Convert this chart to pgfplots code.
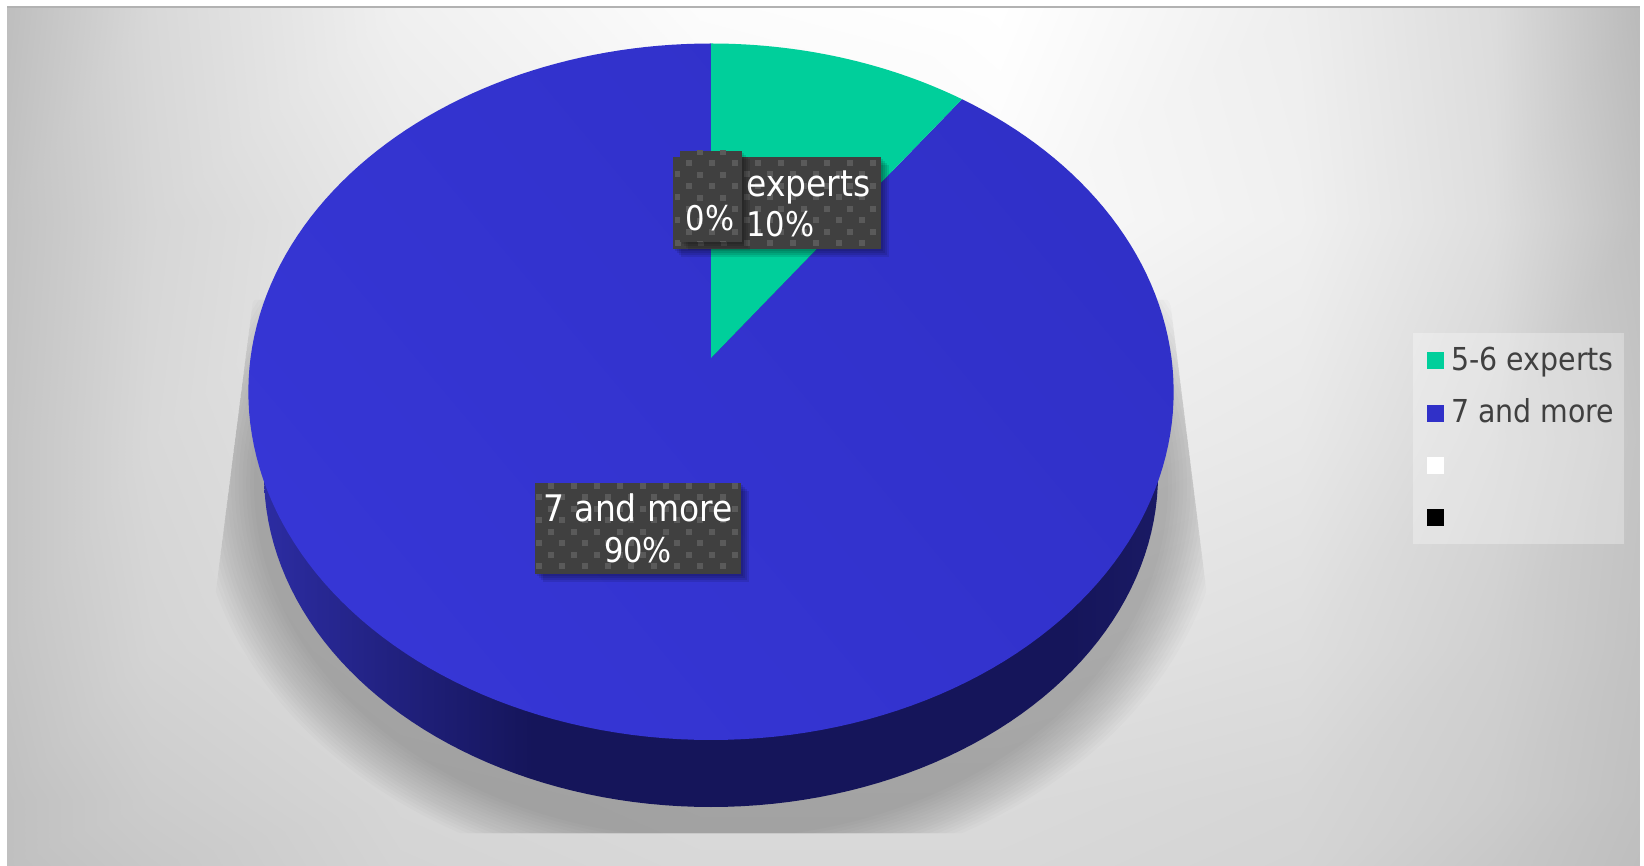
\documentclass[border=0pt]{standalone}
\usepackage{pgfplots}
\usepackage{pgfplotstable}
\usepackage{fontspec}
\pgfplotsset{compat=1.18}
\setmainfont{DejaVu Sans Condensed}

% Share of panels by number of experts
\pgfplotstableread{
group share
1 10
2 90
3 0
4 0
}\sharetable
\pgfplotstablegetelem{0}{share}\of\sharetable
\pgfmathsetmacro{\firstsweep}{3.6*\pgfplotsretval}

% Grey levels of the chart area backdrop
\pgfplotstableread{
x y g
7 7 190
150 7 216
400 7 240
700 7 252
1000 7 255
1300 7 238
1494 7 220
1640 7 186
7 220 194
150 220 214
400 220 232
700 220 244
1000 220 250
1300 220 240
1494 220 222
1640 220 192
7 440 196
150 440 216
400 440 228
700 440 234
1000 440 238
1300 440 232
1494 440 214
1640 440 196
7 650 196
150 650 212
400 650 222
700 650 226
1000 650 228
1300 650 222
1494 650 208
1640 650 194
7 800 192
150 800 204
400 800 214
700 800 218
1000 800 218
1300 800 214
1494 800 204
1640 800 192
7 866 192
150 866 200
400 866 212
700 866 216
1000 866 216
1300 866 212
1494 866 200
1640 866 190
}\backdrop

\definecolor{sliceA}{HTML}{00CF9B}
\definecolor{faceA}{HTML}{3636D5}
\definecolor{faceB}{HTML}{3030C8}
\definecolor{boxbg}{HTML}{404040}
\definecolor{boxdot}{HTML}{5A5A5A}
\definecolor{wallA}{HTML}{2C2CA2}
\definecolor{wallB}{HTML}{15155A}
\definecolor{wallC}{HTML}{1A1A64}
\pgfdeclarehorizontalshading{wall}{100bp}{
  color(0bp)=(wallA); color(25bp)=(wallA); color(40bp)=(wallB);
  color(70bp)=(wallB); color(75bp)=(wallC); color(100bp)=(wallC)}

% Data label box: left, top, right, bottom, then x and y of its first dot
\newcommand\dotbox[6]{%
  \foreach \s in {8,6,4,2}{
    \fill[black,opacity=.1] (axis cs:#1+\s,#2+\s) rectangle (axis cs:#3+\s,#4+\s);
  }
  \fill[boxbg] (axis cs:#1,#2) rectangle (axis cs:#3,#4);
  \begin{scope}
    \clip (axis cs:#1,#2) rectangle (axis cs:#3,#4);
    \foreach \r in {0,...,8}{
      \foreach \c in {-5,...,10}{
        \pgfmathsetmacro{\xx}{#5+23*\c-11.5*mod(\r,2)}
        \pgfmathsetmacro{\yy}{#6+11.5*\r}
        \fill[boxdot] (axis cs:\xx-3,\yy-3) rectangle (axis cs:\xx+3,\yy+3);
      }
    }
  \end{scope}
}
\newcommand\labelfont{\fontsize{18.3}{18.3}\selectfont}
\newcommand\percentfont{\fontsize{17}{17}\selectfont}

\begin{document}
\begin{tikzpicture}
\begin{axis}[
  scale only axis, width=822pt, height=433pt,
  xmin=0, xmax=1644, ymin=0, ymax=866, y dir=reverse,
  hide axis, clip=false,
  colormap/blackwhite, point meta min=0, point meta max=255,
  declare function={
    px(\t)=711+460.5*sin(\t)/(1+0.0969*cos(\t));
    py(\t)=(358-310.3*cos(\t))/(1+0.0969*cos(\t));
    wx(\t)=711+447*sin(\t);
    wy(\t)=475-332*cos(\t);
  },
  legend style={
    at={(axis cs:1427,346)}, anchor=north west, draw=none, fill=none,
    inner sep=0pt, outer sep=0pt, row sep=10.65pt,
    font=\fontsize{15.8}{15.8}\selectfont, text=black!75,
    nodes={inner sep=0pt, text height=12pt, text depth=3.5pt, anchor=base west},
    /tikz/column 1/.style={column sep=3.6pt},
  },
  legend cell align=left,
  legend image code/.code={%
    \fill[#1, draw=none] (0pt,0.4pt) rectangle (8.5pt,8.9pt);
  },
]
  % Full canvas, with its white margin
  \pgfplotsextra{\path (axis cs:0,0) (axis cs:1644,866);}

  % Backdrop
  \addplot[surf, shader=interp, mesh/rows=6, point meta=explicit, forget plot]
    table[x=x, y=y, meta=g] {\backdrop};
  \pgfplotsextra{%
    \fill[gray!60] (axis cs:7,6) rectangle (axis cs:1640,8);
  }

  % Soft shadow under the pie
  \pgfplotsextra{%
    \begin{scope}
      \clip (axis cs:253,300) -- (axis cs:200,716) -- (axis cs:200,833)
        -- (axis cs:1222,833) -- (axis cs:1222,716) -- (axis cs:1170,300) -- cycle;
      \foreach \i in {0,...,15}{
        \pgfmathsetmacro{\rx}{(514-3.8*\i)*0.5}
        \pgfmathsetmacro{\ry}{(400-3*\i)*0.5}
        \fill[black,opacity=.016] (axis cs:711,484) ellipse [x radius=\rx pt, y radius=\ry pt];
      }
    \end{scope}
  }

  % Side wall
  \addplot[draw=none, shade, shading=wall, domain=0:360, samples=181, forget plot]
    ({wx(x)},{wy(x)}) -- cycle;

  % Slices, swept clockwise from twelve o'clock
  \addplot[draw=none, shade, left color=faceA, right color=faceB, shading angle=130,
    domain=\firstsweep:360, samples=181, forget plot]
    ({px(x)},{py(x)}) -- (axis cs:711,358) -- cycle;
  \addplot[draw=none, fill=sliceA, domain=0:\firstsweep, samples=31, forget plot]
    ({px(x)},{py(x)}) -- (axis cs:711,358) -- cycle;

  % Legend panel
  \pgfplotsextra{%
    \fill[white,opacity=.3] (axis cs:1413,333) rectangle (axis cs:1624,544);
  }
  \addlegendimage{fill=sliceA}
  \addlegendentry{5-6 experts}
  \addlegendimage{fill=faceB}
  \addlegendentry{7 and more}
  \addlegendimage{fill=white}
  \addlegendentry{}
  \addlegendimage{fill=black}
  \addlegendentry{}

  % Data labels
  \pgfplotsextra{%
    \dotbox{673}{157}{881}{249}{758}{162.7}
    \node[white, anchor=west, inner sep=0pt, font=\labelfont] at (axis cs:746,187) {experts};
    \node[white, anchor=west, inner sep=0pt, font=\percentfont] at (axis cs:746,224) {10\%};
    \dotbox{680}{151}{742}{242}{700}{152}
    \node[white, anchor=center, inner sep=0pt, font=\percentfont] at (axis cs:710,218) {0\%};
    \dotbox{535}{483}{741}{574}{550.7}{485.7}
    \node[white, anchor=center, inner sep=0pt, font=\labelfont] at (axis cs:638,508) {7 and more};
    \node[white, anchor=center, inner sep=0pt, font=\percentfont] at (axis cs:638,550) {90\%};
  }
\end{axis}
\end{tikzpicture}
\end{document}
